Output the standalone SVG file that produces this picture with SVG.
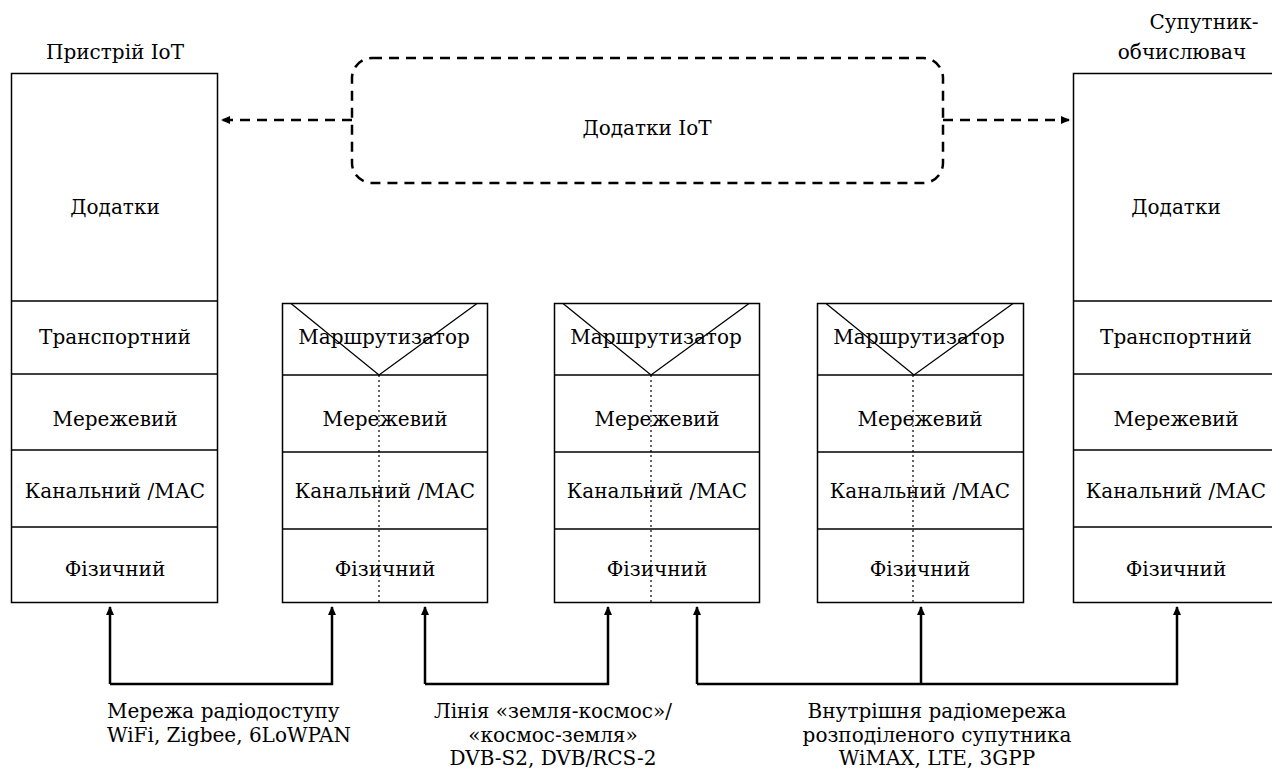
<svg xmlns="http://www.w3.org/2000/svg" width="1272" height="771" viewBox="0 0 1272 771">
  <style>
    .box { fill: #fff; stroke: #000; stroke-width: 1.5; }
    .sep { stroke: #000; stroke-width: 1.5; }
    .dot { stroke: #000; stroke-width: 1.2; stroke-dasharray: 2 3; }
    .t { font-family: 'DejaVu Serif', 'Liberation Serif', serif; font-size: 20px; fill: #000; text-anchor: middle; }
    .tl { text-anchor: start; }
    .link { fill: none; stroke: #000; stroke-width: 2.5; }
    .dash { fill: none; stroke: #000; stroke-width: 2.5; stroke-dasharray: 10 7; }
  </style>
  <defs>
    <marker id="arr" markerWidth="10" markerHeight="10" refX="8" refY="5" orient="auto" markerUnits="userSpaceOnUse">
      <path d="M0,1 L9,5 L0,9 Z" fill="#000"/>
    </marker>
  </defs>

  <rect width="1272" height="771" fill="#fff"/>

  <!-- IoT device stack -->
  <g id="iot-device">
    <text class="t" x="115" y="59">Пристрій IoT</text>
    <rect class="box" x="11.5" y="73.5" width="206" height="529"/>
    <line class="sep" x1="11.5" y1="301" x2="217.5" y2="301"/>
    <line class="sep" x1="11.5" y1="374" x2="217.5" y2="374"/>
    <line class="sep" x1="11.5" y1="450" x2="217.5" y2="450"/>
    <line class="sep" x1="11.5" y1="527" x2="217.5" y2="527"/>
    <text class="t" x="115" y="214">Додатки</text>
    <text class="t" x="115" y="344">Транспортний</text>
    <text class="t" x="115" y="426">Мережевий</text>
    <text class="t" x="115" y="498">Канальний /МАС</text>
    <text class="t" x="115" y="576">Фізичний</text>
  </g>

  <!-- Router 1 -->
  <g id="router-1">
    <rect class="box" x="282.5" y="303.5" width="205" height="299"/>
    <line class="sep" x1="282.5" y1="375" x2="487.5" y2="375"/>
    <line class="sep" x1="282.5" y1="452" x2="487.5" y2="452"/>
    <line class="sep" x1="282.5" y1="529" x2="487.5" y2="529"/>
    <polyline fill="none" stroke="#000" stroke-width="1.3" points="291,303.5 379,375 477,303.5"/>
    <line class="dot" x1="379" y1="375" x2="379" y2="602"/>
    <text class="t" x="384" y="344">Маршрутизатор</text>
    <text class="t" x="385" y="426">Мережевий</text>
    <text class="t" x="385" y="498">Канальний /МАС</text>
    <text class="t" x="385" y="576">Фізичний</text>
  </g>

  <!-- Router 2 -->
  <g id="router-2">
    <rect class="box" x="554.5" y="303.5" width="205" height="299"/>
    <line class="sep" x1="554.5" y1="375" x2="759.5" y2="375"/>
    <line class="sep" x1="554.5" y1="452" x2="759.5" y2="452"/>
    <line class="sep" x1="554.5" y1="529" x2="759.5" y2="529"/>
    <polyline fill="none" stroke="#000" stroke-width="1.3" points="563,303.5 651,375 749,303.5"/>
    <line class="dot" x1="651" y1="375" x2="651" y2="602"/>
    <text class="t" x="656" y="344">Маршрутизатор</text>
    <text class="t" x="657" y="426">Мережевий</text>
    <text class="t" x="657" y="498">Канальний /МАС</text>
    <text class="t" x="657" y="576">Фізичний</text>
  </g>

  <!-- Router 3 -->
  <g id="router-3">
    <rect class="box" x="817.5" y="303.5" width="206" height="299"/>
    <line class="sep" x1="817.5" y1="375" x2="1023.5" y2="375"/>
    <line class="sep" x1="817.5" y1="452" x2="1023.5" y2="452"/>
    <line class="sep" x1="817.5" y1="529" x2="1023.5" y2="529"/>
    <polyline fill="none" stroke="#000" stroke-width="1.3" points="826,303.5 914,375 1013,303.5"/>
    <line class="dot" x1="913" y1="375" x2="913" y2="602"/>
    <text class="t" x="919" y="344">Маршрутизатор</text>
    <text class="t" x="920" y="426">Мережевий</text>
    <text class="t" x="920" y="498">Канальний /МАС</text>
    <text class="t" x="920" y="576">Фізичний</text>
  </g>

  <!-- Satellite computer stack -->
  <g id="satellite">
    <text class="t" x="1204" y="29">Супутник-</text>
    <text class="t" x="1182" y="59">обчислювач</text>
    <rect class="box" x="1073.5" y="73.5" width="206" height="529"/>
    <line class="sep" x1="1073.5" y1="301" x2="1279.5" y2="301"/>
    <line class="sep" x1="1073.5" y1="374" x2="1279.5" y2="374"/>
    <line class="sep" x1="1073.5" y1="450" x2="1279.5" y2="450"/>
    <line class="sep" x1="1073.5" y1="527" x2="1279.5" y2="527"/>
    <text class="t" x="1176" y="214">Додатки</text>
    <text class="t" x="1176" y="344">Транспортний</text>
    <text class="t" x="1176" y="426">Мережевий</text>
    <text class="t" x="1176" y="498">Канальний /МАС</text>
    <text class="t" x="1176" y="576">Фізичний</text>
  </g>

  <!-- IoT applications cloud -->
  <g id="iot-apps">
    <rect class="dash" x="352" y="58" width="591" height="125" rx="20" ry="20"/>
    <text class="t" x="647" y="135">Додатки IoT</text>
  </g>

  <!-- Connectors -->
  <g id="connectors">
    <line class="dash" x1="352" y1="120" x2="222" y2="120" marker-end="url(#arr)"/>
    <line class="dash" x1="943" y1="120" x2="1069" y2="120" marker-end="url(#arr)"/>
    <polyline class="link" points="110,684 332,684 332,607" marker-end="url(#arr)"/>
    <line class="link" x1="110" y1="684" x2="110" y2="607" marker-end="url(#arr)"/>
    <polyline class="link" points="425,684 608,684 608,607" marker-end="url(#arr)"/>
    <line class="link" x1="425" y1="684" x2="425" y2="607" marker-end="url(#arr)"/>
    <polyline class="link" points="697,684 1177,684 1177,607" marker-end="url(#arr)"/>
    <line class="link" x1="697" y1="684" x2="697" y2="607" marker-end="url(#arr)"/>
    <line class="link" x1="921" y1="684" x2="921" y2="607" marker-end="url(#arr)"/>
  </g>

  <!-- Link labels -->
  <g id="labels">
    <text class="t tl" x="107" y="718">Мережа радіодоступу</text>
    <text class="t tl" x="107" y="742">WiFi, Zigbee, 6LoWPAN</text>
    <text class="t" x="553" y="718">Лінія «земля-космос»/</text>
    <text class="t" x="553" y="742">«космос-земля»</text>
    <text class="t" x="553" y="765">DVB-S2, DVB/RCS-2</text>
    <text class="t" x="937" y="718">Внутрішня радіомережа</text>
    <text class="t" x="937" y="742">розподіленого супутника</text>
    <text class="t" x="937" y="765">WiMAX, LTE, 3GPP</text>
  </g>
</svg>
